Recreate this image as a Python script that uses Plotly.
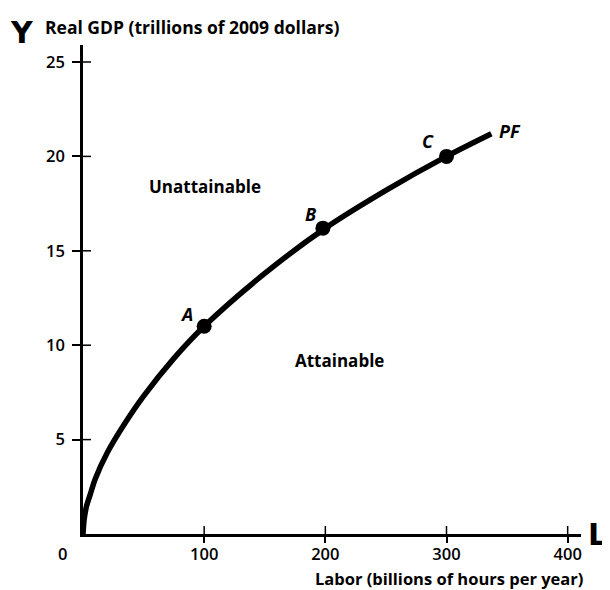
import plotly.graph_objects as go

# Production function points
labor = [0, 1, 3, 6, 10, 20, 35, 50, 75, 100, 150, 200, 250, 300, 337]
gdp = [0, 0.8, 1.5, 2.1, 2.9, 4.3, 5.9, 7.3, 9.3, 11.0, 13.8, 16.2, 18.2, 20.0, 21.2]

# Labelled points
pt_names = ["A", "B", "C"]
pt_labor = [100, 198, 300]
pt_gdp = [11.0, 16.2, 20.0]

x_ticks = [100, 200, 300, 400]
y_ticks = [5, 10, 15, 20, 25]

FONT = "Open Sans"

fig = go.Figure()
fig.add_trace(go.Scatter(x=labor, y=gdp, mode="lines",
                         line=dict(color="black", width=5.5, shape="spline", smoothing=0.8),
                         hoverinfo="skip", showlegend=False))
fig.add_trace(go.Scatter(x=pt_labor, y=pt_gdp, mode="markers",
                         marker=dict(color="black", size=15),
                         showlegend=False))

# inner halves of tick marks (ticks cross the axes)
for v in x_ticks:
    fig.add_shape(type="line", xref="x", yref="y", x0=v, x1=v,
                  ysizemode="pixel", yanchor=0, y0=0, y1=8,
                  line=dict(color="black", width=1.5))
for v in y_ticks:
    fig.add_shape(type="line", xref="x", yref="y", y0=v, y1=v,
                  xsizemode="pixel", xanchor=0, x0=0, x1=8,
                  line=dict(color="black", width=1.5))

lab_font = dict(family=FONT, size=18, color="black")
offsets = {"A": (-18, 12), "B": (-12, 14), "C": (-19, 15)}
for n, x, y in zip(pt_names, pt_labor, pt_gdp):
    dx, dy = offsets[n]
    fig.add_annotation(x=x, y=y, text="<b><i>" + n + "</i></b>", showarrow=False,
                       xshift=dx, yshift=dy, font=lab_font)
fig.add_annotation(x=labor[-1], y=gdp[-1], text="<b><i>PF</i></b>", showarrow=False,
                   xshift=19, yshift=3, font=lab_font)

fig.add_annotation(x=100.7, y=18.4, text="<b>Unattainable</b>", showarrow=False,
                   font=dict(family=FONT, size=17, color="black"))
fig.add_annotation(x=212, y=9.2, text="<b>Attainable</b>", showarrow=False,
                   font=dict(family=FONT, size=17, color="black"))

tick_font = dict(family=FONT, size=16.5, color="black", weight=600)
fig.add_annotation(x=0, y=0, text="0", showarrow=False, xshift=-21, yshift=-19,
                   font=tick_font)

fig.add_annotation(xref="paper", yref="paper", x=-0.122, y=1.025, xanchor="center", yanchor="middle",
                   text="<b>Y</b>", showarrow=False,
                   font=dict(family="DejaVu Sans", size=30, color="black"))
fig.add_annotation(xref="paper", yref="paper", x=-0.08, y=1.037, xanchor="left", yanchor="middle",
                   text="<b>Real GDP (trillions of 2009 dollars)</b>", showarrow=False,
                   font=dict(family=FONT, size=17.5, color="black"))
fig.add_annotation(xref="paper", yref="paper", x=1.056, y=0.0, xanchor="right", yanchor="middle",
                   text="<b>L</b>", showarrow=False,
                   font=dict(family="DejaVu Sans", size=30, color="black"))
fig.add_annotation(xref="paper", yref="paper", x=1.008, y=-0.09, xanchor="right", yanchor="middle",
                   text="<b>Labor (billions of hours per year)</b>", showarrow=False,
                   font=dict(family=FONT, size=16.5, color="black"))

fig.update_layout(
    width=602, height=582,
    margin=dict(l=75, r=29, t=37, b=56),
    paper_bgcolor="white", plot_bgcolor="white",
    font=dict(family=FONT, color="black"),
    xaxis=dict(range=[0, 411], tickvals=x_ticks, ticks="outside", ticklen=6,
               tickwidth=1.5, tickcolor="black", showline=True, linecolor="black",
               linewidth=2.5, showgrid=False, zeroline=False, ticklabelstandoff=-3,
               tickfont=tick_font),
    yaxis=dict(range=[0, 25.9], tickvals=y_ticks, ticks="outside", ticklen=8,
               tickwidth=1.5, tickcolor="black", showline=True, linecolor="black",
               linewidth=2.5, showgrid=False, zeroline=False, ticklabelstandoff=4,
               tickfont=tick_font),
)

fig.write_html("out.html")
